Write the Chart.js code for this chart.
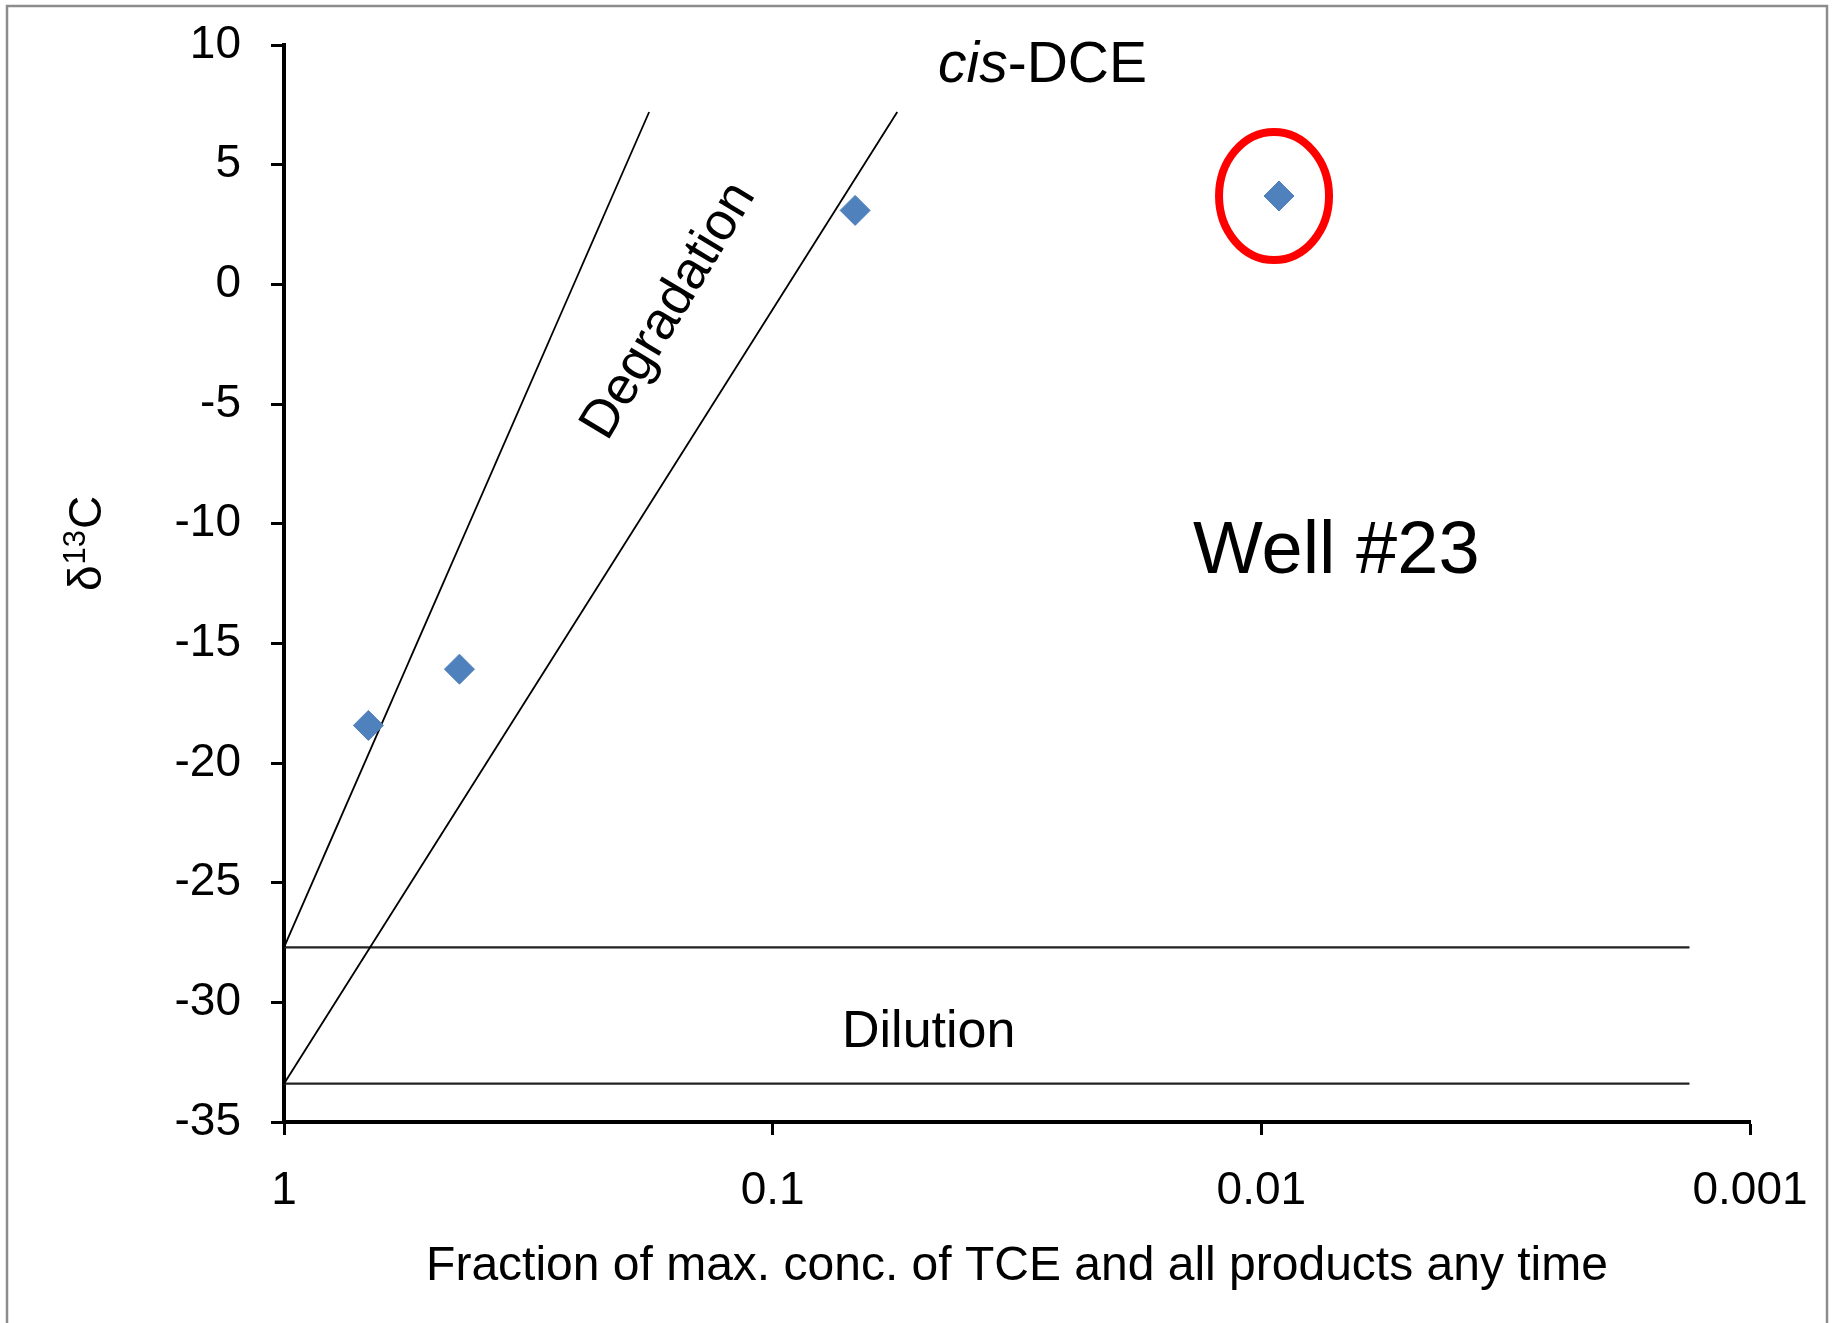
<!DOCTYPE html>
<html>
<head>
<meta charset="utf-8">
<title>Well #23 - δ13C vs fraction</title>
<script src="https://cdn.jsdelivr.net/npm/chart.js@4.4.1/dist/chart.umd.min.js"></script>
<style>
  html, body { margin: 0; padding: 0; background: #ffffff; }
  canvas { display: block; }
</style>
</head>
<body>
<canvas id="grafico" width="1835" height="1323"></canvas>
<script>
// Datos
const xTickValues = [1, 0.1, 0.01, 0.001];
const xTickLabels = ['1', '0.1', '0.01', '0.001'];
const yMin = -35;
const yMax = 10;
const yStep = 5;

// Muestras del pozo (fracción, δ13C)
const wellFraction = [0.672, 0.4375, 0.0678, 0.0092];
const wellDelta = [-18.43, -16.08, 3.09, 3.69];
const circledIndex = 3;

// Líneas de degradación
const degradTceFraction = [1, 0.179];
const degradTceDelta = [-27.7, 7.2];
const degradDceFraction = [1, 0.0556];
const degradDceDelta = [-33.4, 7.2];

// Líneas de dilución
const dilutionFraction = [1, 0.00133];
const dilutionTceDelta = [-27.7, -27.7];
const dilutionDceDelta = [-33.4, -33.4];

const FONT = "'Liberation Sans', Arial, Helvetica, sans-serif";

function toPoints(xs, ys) {
    return xs.map((x, i) => ({ x: x, y: ys[i] }));
}

function lineDataset(xs, ys, color, width) {
    return {
        type: 'line',
        data: toPoints(xs, ys),
        borderColor: color,
        borderWidth: width,
        pointRadius: 0,
        fill: false,
        tension: 0
    };
}

// Plugin para fondo, marco, textos y elipse
const anotaciones = {
    id: 'anotaciones',
    beforeDraw(chart) {
        const ctx = chart.ctx;
        ctx.save();
        ctx.fillStyle = '#ffffff';
        ctx.fillRect(0, 0, chart.width, chart.height);
        ctx.restore();
    },
    afterDatasetsDraw(chart) {
        const ctx = chart.ctx;
        const xs = chart.scales.x;
        const ys = chart.scales.y;

        // Elipse roja alrededor de la muestra marcada
        const cx = xs.getPixelForValue(wellFraction[circledIndex]) - 5;
        const cy = ys.getPixelForValue(wellDelta[circledIndex]);
        ctx.save();
        ctx.strokeStyle = '#ff0000';
        ctx.lineWidth = 8;
        ctx.beginPath();
        ctx.ellipse(cx, cy, 55, 64, 0, 0, Math.PI * 2);
        ctx.stroke();
        ctx.restore();
    },
    afterDraw(chart) {
        const ctx = chart.ctx;
        ctx.save();

        // Marco exterior gris
        ctx.strokeStyle = '#8c8c8c';
        ctx.lineWidth = 2.5;
        ctx.strokeRect(7, 6, 1820, 1400);

        ctx.fillStyle = '#000000';
        ctx.textBaseline = 'alphabetic';
        ctx.textAlign = 'left';

        // cis-DCE
        ctx.font = 'italic 57px ' + FONT;
        ctx.fillText('cis', 938, 82);
        const wCis = ctx.measureText('cis').width;
        ctx.font = '57px ' + FONT;
        ctx.fillText('-DCE', 938 + wCis, 82);

        // Well #23
        ctx.font = '74px ' + FONT;
        ctx.fillText('Well #23', 1193, 573);

        // Dilution
        ctx.font = '52px ' + FONT;
        ctx.fillText('Dilution', 842, 1047);

        // Degradation (rotado)
        ctx.save();
        ctx.translate(669, 311);
        ctx.rotate(-59 * Math.PI / 180);
        ctx.textAlign = 'center';
        ctx.textBaseline = 'middle';
        ctx.font = '53px ' + FONT;
        ctx.fillText('Degradation', 0, 0);
        ctx.restore();

        // Título del eje Y: δ13C
        ctx.save();
        ctx.translate(101, 591);
        ctx.rotate(-Math.PI / 2);
        ctx.textAlign = 'left';
        ctx.textBaseline = 'alphabetic';
        ctx.font = '46px ' + FONT;
        ctx.fillText('δ', 0, 0);
        let off = ctx.measureText('δ').width + 1;
        ctx.font = '31px ' + FONT;
        ctx.fillText('13', off, -16);
        off += ctx.measureText('13').width + 1;
        ctx.font = '46px ' + FONT;
        ctx.fillText('C', off, 0);
        ctx.restore();

        ctx.restore();
    }
};

const ctx = document.getElementById('grafico').getContext('2d');

new Chart(ctx, {
    type: 'scatter',
    data: {
        datasets: [
            {
                type: 'scatter',
                data: toPoints(wellFraction, wellDelta),
                pointStyle: 'rectRot',
                pointRadius: 15,
                pointHoverRadius: 15,
                backgroundColor: '#4F81BD',
                borderColor: '#4F81BD',
                borderWidth: 1
            },
            lineDataset(degradTceFraction, degradTceDelta, '#000000', 1.8),
            lineDataset(degradDceFraction, degradDceDelta, '#000000', 1.8),
            lineDataset(dilutionFraction, dilutionTceDelta, '#222222', 2.2),
            lineDataset(dilutionFraction, dilutionDceDelta, '#222222', 2.2)
        ]
    },
    options: {
        responsive: false,
        animation: false,
        devicePixelRatio: 1,
        layout: {
            padding: { left: 0, top: 45, right: 85, bottom: 0 }
        },
        plugins: {
            legend: { display: false },
            tooltip: { enabled: false },
            title: { display: false }
        },
        scales: {
            x: {
                type: 'logarithmic',
                position: 'bottom',
                reverse: true,
                min: 0.001,
                max: 1,
                afterBuildTicks: (scale) => {
                    scale.ticks = xTickValues.map(v => ({ value: v }));
                },
                afterFit: (scale) => {
                    scale.height = 201;
                    scale.paddingLeft = 0;
                    scale.paddingRight = 0;
                },
                ticks: {
                    color: '#000000',
                    font: { family: FONT, size: 46 },
                    padding: 29,
                    maxRotation: 0,
                    autoSkip: false,
                    callback: (value) => {
                        const i = xTickValues.indexOf(value);
                        return i >= 0 ? xTickLabels[i] : '';
                    }
                },
                grid: {
                    display: true,
                    drawOnChartArea: false,
                    drawTicks: true,
                    tickLength: 13,
                    tickWidth: 3,
                    tickColor: '#000000',
                    color: '#000000'
                },
                border: { display: true, color: '#000000', width: 4 },
                title: {
                    display: true,
                    text: 'Fraction of max. conc. of TCE and all products any time',
                    color: '#000000',
                    font: { family: FONT, size: 48 },
                    padding: { top: 0, bottom: 27 }
                }
            },
            y: {
                type: 'linear',
                position: 'left',
                min: yMin,
                max: yMax,
                afterFit: (scale) => {
                    scale.width = 284;
                    scale.paddingTop = 0;
                    scale.paddingBottom = 0;
                },
                ticks: {
                    stepSize: yStep,
                    color: '#000000',
                    font: { family: FONT, size: 46 },
                    padding: 30
                },
                grid: {
                    display: true,
                    drawOnChartArea: false,
                    drawTicks: true,
                    tickLength: 13,
                    tickWidth: 3,
                    tickColor: '#000000',
                    color: '#000000'
                },
                border: { display: true, color: '#000000', width: 4 },
                title: { display: false }
            }
        }
    },
    plugins: [anotaciones]
});
</script>
</body>
</html>
